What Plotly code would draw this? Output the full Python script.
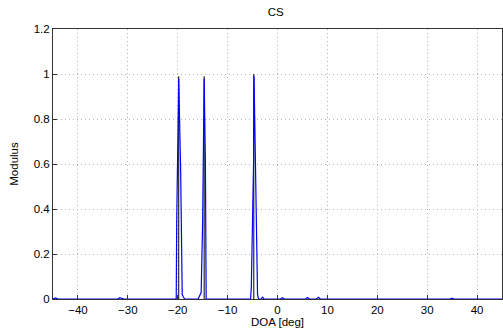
import plotly.graph_objects as go

# True DOAs (black stems)
true_doa = [-19.8, -14.7, -4.75]
true_amp = [0.99, 0.99, 1.0]

# CS spectrum (blue line)
doa = [-45, -44.5, -44, -43.5, -32, -31.6, -31.2, -30.8, -22, -20.3, -20.2, -19.8, -19.4, -19.1, -18.9, -18.6,
       -15.9, -15.6, -15.3, -15.0, -14.7, -14.45, -14.3, -14.0, -6, -5.4, -5.25, -4.8, -4.7, -4.3, -4.0, -3.8,
       -3.3, -3.0, -2.7, 0.6, 1.0, 1.4, 5.6, 6.0, 6.4, 7.8, 8.2, 8.6, 34.6, 35.0, 35.4, 45]
modulus = [0.0, 0.005, 0.0, 0.0, 0.0, 0.006, 0.004, 0.0, 0.0, 0.0, 0.35, 0.98, 0.55, 0.02, 0.01, 0.0,
           0.0, 0.015, 0.03, 0.35, 0.98, 0.6, 0.0, 0.0, 0.0, 0.0, 0.05, 0.6, 0.99, 0.3, 0.02, 0.0,
           0.0, 0.008, 0.0, 0.0, 0.006, 0.0, 0.0, 0.007, 0.0, 0.0, 0.008, 0.0, 0.0, 0.004, 0.0, 0.0]

x_ticks = [-40, -30, -20, -10, 0, 10, 20, 30, 40]
x_tick_text = ["\u221240", "\u221230", "\u221220", "\u221210", "0", "10", "20", "30", "40"]
y_ticks = [0, 0.2, 0.4, 0.6, 0.8, 1, 1.2]
y_tick_text = ["0", "0.2", "0.4", "0.6", "0.8", "1", "1.2"]

stem_x, stem_y = [], []
for d, a in zip(true_doa, true_amp):
    stem_x += [d, d, None]
    stem_y += [0, a, None]

fig = go.Figure()
fig.add_trace(go.Scatter(x=stem_x, y=stem_y, mode="lines",
                         line=dict(color="black", width=1), showlegend=False))
fig.add_trace(go.Scatter(x=doa, y=modulus, mode="lines",
                         line=dict(color="#0000ff", width=1.2), showlegend=False))

font = dict(family="Liberation Sans, Arial, sans-serif", size=11.5, color="black")
fig.update_layout(
    width=503, height=333,
    margin=dict(l=53, r=1, t=29, b=34),
    paper_bgcolor="white", plot_bgcolor="white",
    font=font,
    title=dict(text="CS", x=0.548, xanchor="center", y=0.963, yanchor="middle",
               font=dict(size=11.5, family=font["family"], color="black")),
    xaxis=dict(range=[-45, 45], tickvals=x_ticks, ticktext=x_tick_text,
               showgrid=True, gridcolor="#b4b4b4", griddash="1px,3px", gridwidth=1,
               zeroline=False, showline=True, linecolor="#333333", linewidth=1, mirror=True,
               ticks="inside", ticklen=4, tickcolor="#333333",
               title=dict(text="DOA [deg]", standoff=2, font=font)),
    yaxis=dict(range=[0, 1.2], tickvals=y_ticks, ticktext=y_tick_text,
               showgrid=True, gridcolor="#b4b4b4", griddash="1px,3px", gridwidth=1,
               zeroline=False, showline=True, linecolor="#333333", linewidth=1, mirror=True,
               ticks="inside", ticklen=4, tickcolor="#333333",
               title=dict(text="Modulus", standoff=12, font=font)),
)

fig.write_html("out.html")
